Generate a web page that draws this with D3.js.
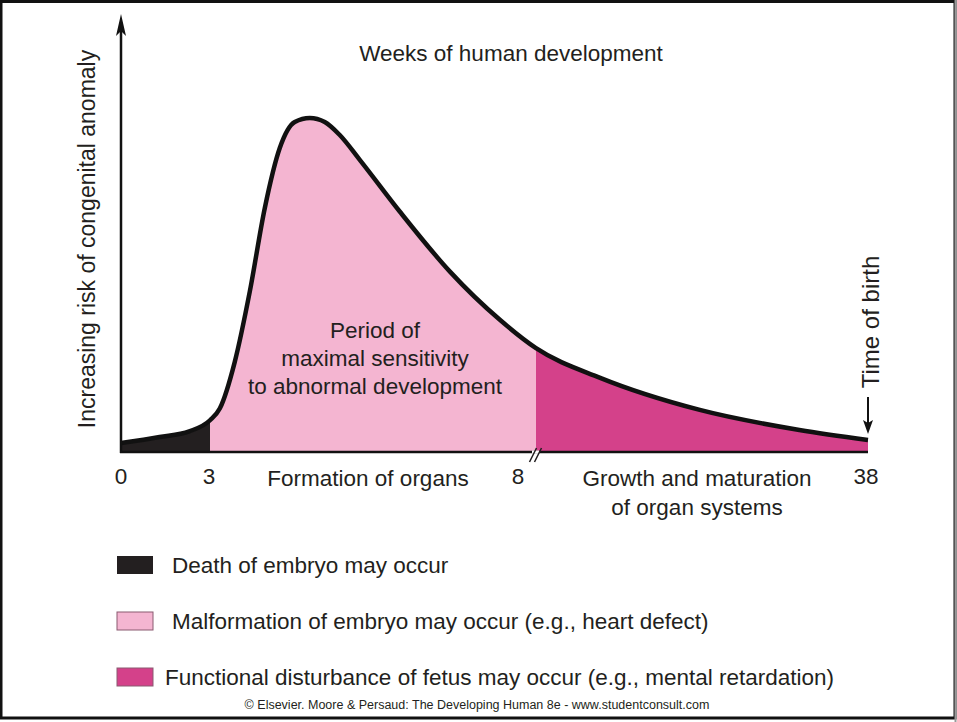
<!DOCTYPE html>
<html><head><meta charset="utf-8">
<script src="https://cdn.jsdelivr.net/npm/d3@7"></script>
<style>
html,body{margin:0;padding:0;background:#fff;}
svg text{font-family:"Liberation Sans",Arial,Helvetica,sans-serif;fill:#231f20;}
</style></head>
<body>
<svg id="chart" width="957" height="722"></svg>
<script>
// ---- data ----
const weeks = [0, 1.3, 2.3, 3, 3.15, 3.38, 3.61, 3.84, 4.07, 4.3, 4.53, 4.76, 4.99, 5.3, 5.91, 6.68, 7.45, 8, 13.8, 22.8, 31.8, 38];
const risk  = [2.7, 4.5, 6.2, 9.5, 13, 27, 48, 73, 91, 98.8, 100, 98.8, 94.9, 87.4, 72, 54, 39.5, 31.1, 22.2, 12.6, 6.6, 3.6];
const tickWeeks  = [0, 3, 8, 38];
const tickLabels = ["0", "3", "8", "38"];
const periods = [
  {from: 0, to: 3, color: "#231f20"},
  {from: 3, to: 8, color: "#f4b5d1"},
  {from: 8, to: 38, color: "#d4418a"}
];
const legendLabels = [
  "Death of embryo may occur",
  "Malformation of embryo may occur (e.g., heart defect)",
  "Functional disturbance of fetus may occur (e.g., mental retardation)"
];
const title = "Weeks of human development";
const yLabel = "Increasing risk of congenital anomaly";
const centerLines = ["Period of", "maximal sensitivity", "to abnormal development"];
const phaseLabels = [{text: ["Formation of organs"], at: 5.4}, {text: ["Growth and maturation", "of organ systems"], at: 22.6}];
const birthLabel = "Time of birth";
const credit = "\u00A9 Elsevier. Moore & Persaud: The Developing Human 8e - www.studentconsult.com";

// ---- scales ----
const svg = d3.select("#chart");
const x = d3.scaleLinear().domain(tickWeeks).range([121, 210, 536, 868]);
const y = d3.scaleLinear().domain([0, 100]).range([452, 118]);
const pts = weeks.map((w, i) => [w, risk[i]]);
const FS = 22.5;

// frame
svg.append("rect").attr("x", 1).attr("y", 1.5).attr("width", 954).attr("height", 716.5)
  .attr("fill", "none").attr("stroke", "#111").attr("stroke-width", 3);
svg.append("line").attr("x1", 955.5).attr("x2", 955.5).attr("y1", 0).attr("y2", 722)
  .attr("stroke", "#999").attr("stroke-width", 2);

const defs = svg.append("defs");
periods.forEach((p, i) => {
  defs.append("clipPath").attr("id", "clip" + i).append("rect")
    .attr("x", x(p.from)).attr("y", 0).attr("width", x(p.to) - x(p.from)).attr("height", 460);
});

const area = d3.area().x(d => x(d[0])).y0(y(0)).y1(d => y(d[1])).curve(d3.curveMonotoneX);
const line = d3.line().x(d => x(d[0])).y(d => y(d[1])).curve(d3.curveMonotoneX);

periods.forEach((p, i) => {
  svg.append("path").datum(pts).attr("d", area).attr("fill", p.color).attr("clip-path", `url(#clip${i})`);
});
svg.append("path").datum(pts).attr("d", line).attr("fill", "none")
  .attr("stroke", "#111").attr("stroke-width", 4.5).attr("stroke-linejoin", "round");

// baseline (x axis)
svg.append("line").attr("x1", x(0) - 1).attr("x2", x(38)).attr("y1", y(0)).attr("y2", y(0))
  .attr("stroke", "#111").attr("stroke-width", 2.5);
// break mark
const bx = x(8);
svg.append("rect").attr("x", bx - 4).attr("y", y(0) - 1.5).attr("width", 7).attr("height", 3).attr("fill", "#fff");
[-2.5, 2.5].forEach(o => {
  svg.append("line").attr("x1", bx + o - 4).attr("y1", y(0) + 10).attr("x2", bx + o + 3).attr("y2", y(0) - 4)
    .attr("stroke", "#231f20").attr("stroke-width", 1.6);
});

// y axis with arrow
svg.append("line").attr("x1", x(0)).attr("x2", x(0)).attr("y1", y(0) + 1).attr("y2", 28)
  .attr("stroke", "#111").attr("stroke-width", 2.5);
svg.append("path").attr("d", `M${x(0)},14 L${x(0) - 5},36 L${x(0)},31 L${x(0) + 5},36 Z`).attr("fill", "#111");

// tick labels
const tickOffset = [0, -1, -18, -2];
svg.selectAll("text.tick").data(tickWeeks).join("text").attr("class", "tick")
  .attr("x", (d, i) => x(d) + tickOffset[i]).attr("y", 484)
  .attr("text-anchor", "middle").attr("font-size", FS).text((d, i) => tickLabels[i]);

// title
svg.append("text").attr("x", 511).attr("y", 61).attr("text-anchor", "middle")
  .attr("font-size", FS).text(title);
// y label
svg.append("text").attr("transform", "translate(95,239) rotate(-90)").attr("text-anchor", "middle")
  .attr("font-size", FS + 0.5).text(yLabel);
// center text
svg.selectAll("text.center").data(centerLines).join("text").attr("class", "center")
  .attr("x", 375).attr("y", (d, i) => 338 + i * 28).attr("text-anchor", "middle")
  .attr("font-size", FS).text(d => d);
// phase labels
phaseLabels.forEach((p, j) => {
  p.text.forEach((t, i) => {
    svg.append("text").attr("x", j === 0 ? 368 : 697).attr("y", 486 + i * 29)
      .attr("text-anchor", "middle").attr("font-size", FS).text(t);
  });
});
// time of birth
svg.append("text").attr("transform", "translate(879,322) rotate(-90)").attr("text-anchor", "middle")
  .attr("font-size", FS + 1.5).text(birthLabel);
svg.append("line").attr("x1", 868).attr("x2", 868).attr("y1", 397).attr("y2", 425)
  .attr("stroke", "#111").attr("stroke-width", 2);
svg.append("path").attr("d", "M868,434 L863,420 L868,423 L873,420 Z").attr("fill", "#111");

// legend
const lg = svg.selectAll("g.legend").data(periods).join("g").attr("class", "legend")
  .attr("transform", (d, i) => `translate(0,${556 + i * 56})`);
lg.append("rect").attr("x", 117).attr("y", 0).attr("width", 36).attr("height", 18)
  .attr("fill", d => d.color).attr("stroke", (d, i) => i === 0 ? "none" : "#8a5a70").attr("stroke-width", 1);
lg.append("text").attr("x", (d, i) => i === 2 ? 165 : 172).attr("y", 17)
  .attr("font-size", FS).text((d, i) => legendLabels[i]);

// credit
svg.append("text").attr("x", 477).attr("y", 709).attr("text-anchor", "middle")
  .attr("font-family", "DejaVu Sans, Verdana, sans-serif").attr("font-size", 12.5).text(credit);
</script>
</body></html>
